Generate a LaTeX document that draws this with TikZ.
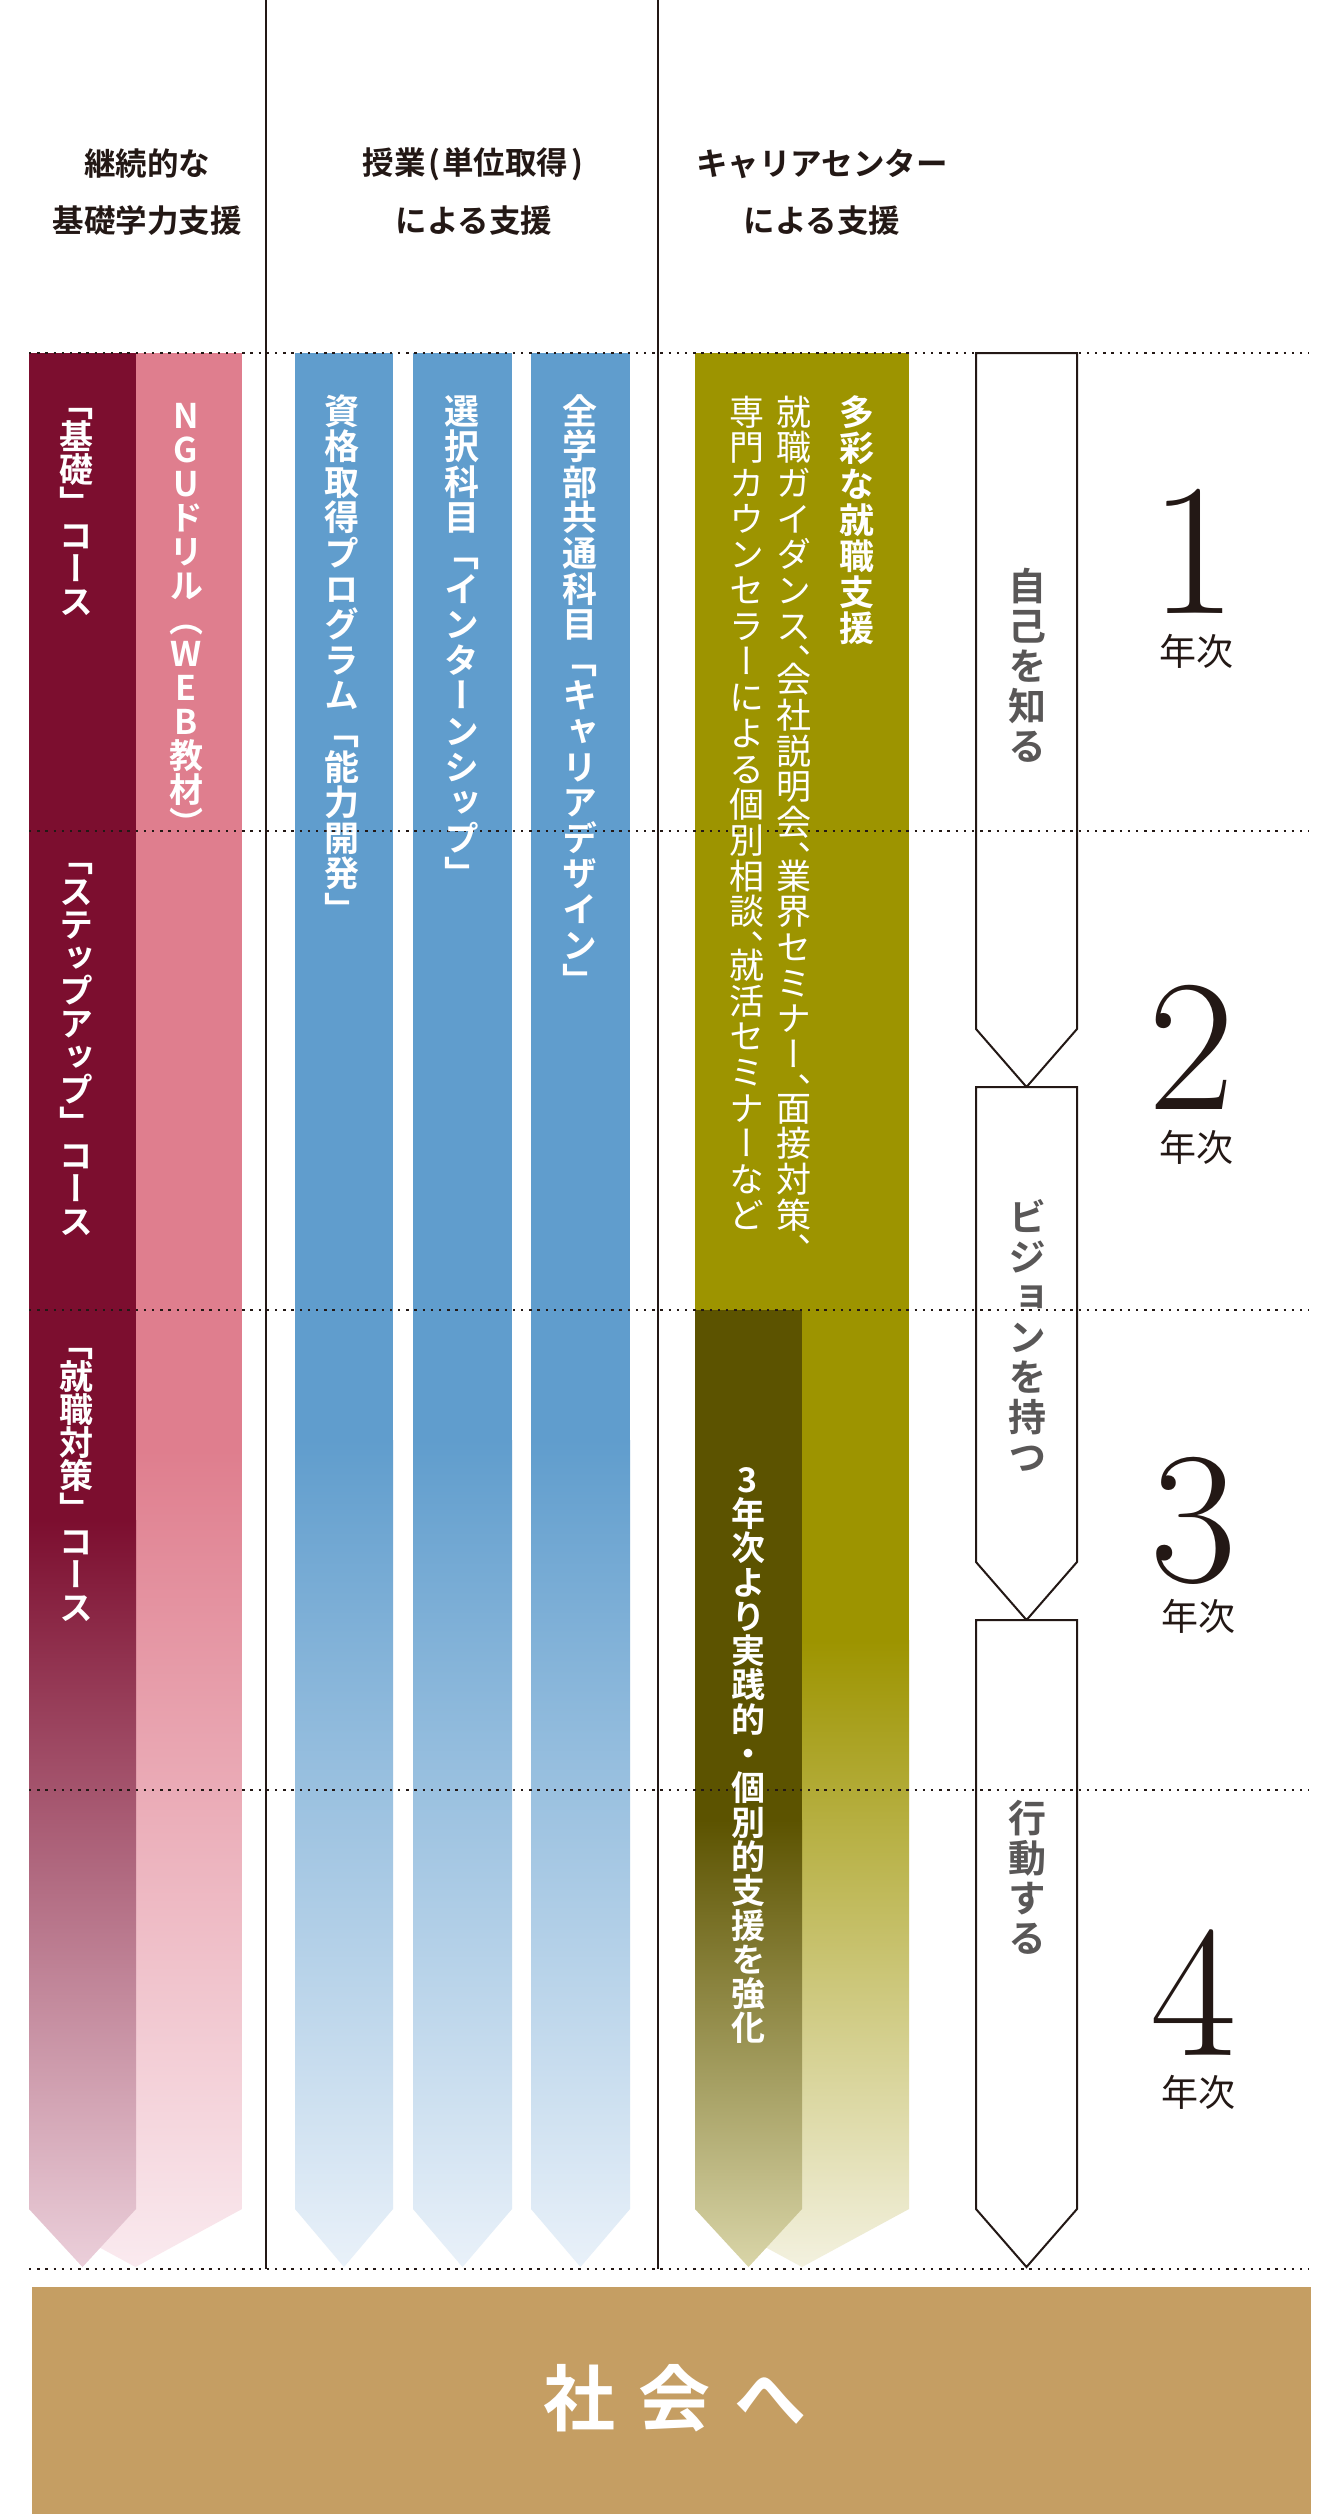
\documentclass[tikz,border=0pt]{standalone}
\usepackage{fontspec}
\newfontfamily\jp[BoldFont={Noto Sans CJK JP Bold}]{Noto Sans CJK JP}
\newfontfamily\jpv[RawFeature=+vert,BoldFont={Noto Sans CJK JP Bold}]{Noto Sans CJK JP}
\definecolor{ink}{HTML}{231815}
\definecolor{gtxt}{HTML}{595757}
\definecolor{dred}{HTML}{7C0E2F}
\definecolor{dredB}{HTML}{EBCFDA}
\definecolor{pnk}{HTML}{DF7E8E}
\definecolor{pnkB}{HTML}{FAEAEF}
\definecolor{blu}{HTML}{609DCD}
\definecolor{bluB}{HTML}{E9F1F9}
\definecolor{olv}{HTML}{9D9400}
\definecolor{olvB}{HTML}{F3F1DF}
\definecolor{dolv}{HTML}{5C5300}
\definecolor{dolvB}{HTML}{D9D5A8}
\definecolor{tanc}{HTML}{C59E63}

\ExplSyntaxOn
\dim_new:N \l__vs_pitch_dim
\cs_new_protected:Npn \__vs_char:n #1
  {
    \hbox_to_wd:nn { 1em }
      { \hss \vrule ~ height ~ .88em ~ depth ~ .12em ~ width ~ 0pt \relax #1 \hss }
    \str_if_eq:nnTF { #1 } { 、 }
      { \skip_vertical:n { \l__vs_pitch_dim / 2 - 1em } }
      { \skip_vertical:n { \l__vs_pitch_dim - 1em } }
  }
\NewDocumentCommand \vstack { m m }
  {
    \vbox:n
      {
        \offinterlineskip
        \dim_set:Nn \l__vs_pitch_dim { #1 }
        \tl_map_function:nN { #2 } \__vs_char:n
      }
  }
\ExplSyntaxOff

\tikzset{
  hdr/.style={font=\jp\bfseries\fontsize{31.5}{36}\selectfont, text=ink, inner sep=0pt},
  vcol/.style={text=white, inner sep=0pt, anchor=north},
  vbold/.style={vcol, font=\jpv\bfseries\fontsize{#1}{#1}\selectfont},
  vreg/.style={vcol, font=\jpv\fontsize{#1}{#1}\selectfont},
  boxtxt/.style={inner sep=0pt, anchor=north, text=gtxt, font=\jpv\bfseries\fontsize{38}{38}\selectfont},
  num/.style={inner sep=0pt, anchor=base, text=ink, font=\fontsize{188}{190}\selectfont},
  nenji/.style={inner sep=0pt, text=ink, font=\jp\fontsize{37}{40}\selectfont},
  dotline/.style={ink, line width=2pt, dash pattern=on 2.4pt off 5.8pt},
  vline/.style={ink, line width=2pt},
  abox/.style={fill=white, draw=ink, line width=2pt, line join=miter},
}

\begin{document}
\begin{tikzpicture}[x=1pt,y=-1pt]
\useasboundingbox (0,0) rectangle (1341,2514);
\fill[white] (0,0) rectangle (1341,2514);

% ---- headers
\node[hdr] (h1a) at (147,164) {継続的な};
\node[hdr] (h1b) at (147,221) {基礎学力支援};
\node[hdr] (h2a) at (474,164) {授業\makebox[17pt]{(}単位取得\makebox[17pt]{)}};
\node[hdr] (h2b) at (474,221) {による支援};
\node[hdr] (h3a) at (822,164) {キャリアセンター};
\node[hdr] (h3b) at (822,221) {による支援};

% ---- pink / dark red pair
\fill[pnk] (29,353) rectangle (242,1451);
\shade[top color=pnk, bottom color=pnkB] (29,1450) -- (242,1450) -- (242,2209) -- (135.5,2267) -- (29,2209) -- cycle;
\fill[dred] (29,353) rectangle (136,1521);
\shade[top color=dred, bottom color=dredB] (29,1520) -- (136,1520) -- (136,2209) -- (82.5,2267) -- (29,2209) -- cycle;

% ---- blue columns
\foreach \xa/\xb in {295/393, 413/512, 531/630}{
  \fill[blu] (\xa,353) rectangle (\xb,1441);
  \shade[top color=blu, bottom color=bluB] (\xa,1440) -- (\xb,1440) -- (\xb,2209) -- ({(\xa+\xb)/2},2267) -- (\xa,2209) -- cycle;
}

% ---- olive pair
\fill[olv] (695,353) rectangle (909,1641);
\shade[top color=olv, bottom color=olvB] (695,1640) -- (909,1640) -- (909,2209) -- (802,2267) -- (695,2209) -- cycle;
\fill[dolv] (695,1310) rectangle (802,1821);
\shade[top color=dolv, bottom color=dolvB] (695,1820) -- (802,1820) -- (802,2209) -- (748.5,2267) -- (695,2209) -- cycle;

% ---- white arrow boxes
\draw[abox] (976,353) -- (1077,353) -- (1077,1029) -- (1026.5,1087) -- (976,1029) -- cycle;
\draw[abox] (976,1087) -- (1077,1087) -- (1077,1562) -- (1026.5,1620) -- (976,1562) -- cycle;
\draw[abox] (976,1620) -- (1077,1620) -- (1077,2209) -- (1026.5,2267) -- (976,2209) -- cycle;

% ---- grid lines
\foreach \yy in {353, 831, 1310, 1790, 2269}{
  \draw[dotline] (29,\yy) -- (1309,\yy);
}
\draw[vline] (266,0) -- (266,2269);
\draw[vline] (658,0) -- (658,2269);

% ---- column texts
\node[vbold=34] (c1) at (76,386) {\vstack{33pt}{「基礎」コース}};
\node[vbold=34] (c2) at (76,841) {\vstack{33pt}{「ステップアップ」コース}};
\node[vbold=34] (c3) at (76,1326) {\vstack{33pt}{「就職対策」コース}};
\node[vbold=34] (c4) at (186,398) {\vstack{34pt}{NGUドリル（WEB教材）}};
\node[vbold=35] (c5) at (342,393) {\vstack{35.6pt}{資格取得プログラム「能力開発」}};
\node[vbold=35] (c6) at (462,393) {\vstack{35.6pt}{選択科目「インターンシップ」}};
\node[vbold=35] (c7) at (580,393) {\vstack{35.6pt}{全学部共通科目「キャリアデザイン」}};
\node[vbold=35] (c8) at (857,394) {\vstack{36pt}{多彩な就職支援}};
\node[vreg=35] (c9) at (794,394) {\vstack{35.7pt}{就職ガイダンス、会社説明会、業界セミナー、面接対策、}};
\node[vreg=35] (c10) at (747,394) {\vstack{35.7pt}{専門カウンセラーによる個別相談、就活セミナーなど}};
\node[vbold=34] (c11) at (748,1462) {\vstack{34.3pt}{3年次より実践的・個別的支援を強化}};

% ---- arrow box texts
\node[boxtxt] (b1) at (1027,567) {\vstack{40pt}{自己を知る}};
\node[boxtxt] (b2) at (1027,1198) {\vstack{40pt}{ビジョンを持つ}};
\node[boxtxt] (b3) at (1027,1799) {\vstack{40pt}{行動する}};

% ---- year numbers
\node[num] (n1) at (1194,613) {1};
\node[nenji] (y1) at (1196,651) {年次};
\node[num] (n2) at (1192,1109) {2};
\node[nenji] (y2) at (1196,1147) {年次};
\node[num] (n3) at (1194,1581) {3};
\node[nenji] (y3) at (1198,1616) {年次};
\node[num] (n4) at (1194,2055) {4};
\node[nenji] (y4) at (1198,2092) {年次};

% ---- bottom bar
\fill[tanc] (32,2287) rectangle (1311,2514);
\node[inner sep=0pt, text=white, font=\jp\bfseries\fontsize{72}{80}\selectfont] (soc) at (675,2398) {社\hspace{24pt}会\hspace{24pt}へ};
\end{tikzpicture}
\end{document}
